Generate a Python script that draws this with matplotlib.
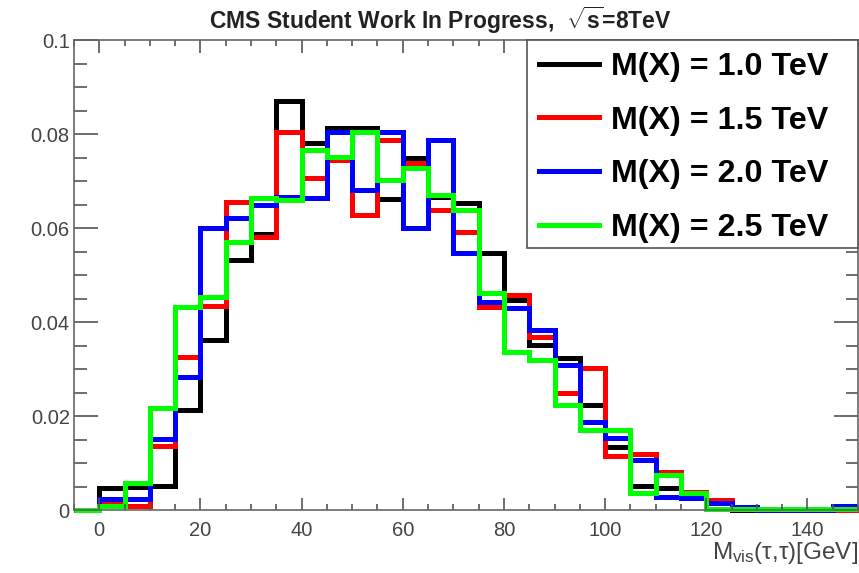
import numpy as np
import matplotlib
matplotlib.use("Agg")
import matplotlib.pyplot as plt
from matplotlib.patches import Rectangle
from matplotlib.ticker import MultipleLocator, FuncFormatter

plt.rcParams['font.family'] = ['Liberation Sans', 'DejaVu Sans']
plt.rcParams['mathtext.fontset'] = 'custom'
plt.rcParams['mathtext.rm'] = 'Liberation Sans'
plt.rcParams['mathtext.it'] = 'Liberation Sans:italic'
plt.rcParams['mathtext.bf'] = 'Liberation Sans:bold'

# visible di-tau mass, 5 GeV bins starting at -5
edges = np.arange(-5, 155, 5)

m10 = [0, 0.0047, 0.0048, 0.0051, 0.0213, 0.0362, 0.0532, 0.0588, 0.0871, 0.0781,
       0.0813, 0.0813, 0.0662, 0.0750, 0.0665, 0.0653, 0.0547, 0.0447, 0.0351, 0.0323,
       0.0223, 0.0134, 0.0051, 0.0047, 0.0030, 0.0003, 0, 0, 0, 0, 0]
m15 = [0, 0.0015, 0.0008, 0.0136, 0.0326, 0.0433, 0.0656, 0.0581, 0.0805, 0.0707,
       0.0745, 0.0628, 0.0788, 0.0738, 0.0638, 0.0592, 0.0432, 0.0458, 0.0369, 0.0250,
       0.0302, 0.0115, 0.0120, 0.0081, 0.0038, 0.0021, 0.0003, 0, 0, 0, 0]
m20 = [0, 0.0023, 0.0023, 0.0151, 0.0283, 0.0600, 0.0622, 0.0650, 0.0667, 0.0664,
       0.0805, 0.0680, 0.0805, 0.0600, 0.0788, 0.0547, 0.0443, 0.0430, 0.0383, 0.0309,
       0.0187, 0.0153, 0.0106, 0.0028, 0.0026, 0.0015, 0.0006, 0, 0, 0, 0.0009]
m25 = [0, 0.0008, 0.0057, 0.0217, 0.0432, 0.0454, 0.0571, 0.0664, 0.0660, 0.0766,
       0.0752, 0.0805, 0.0703, 0.0728, 0.0670, 0.0638, 0.0462, 0.0336, 0.0319, 0.0223,
       0.0170, 0.0170, 0.0036, 0.0075, 0.0036, 0.0003, 0.0003, 0.0003, 0.0003, 0.0003, 0.0003]

labels = ['M(X) = 1.0 TeV', 'M(X) = 1.5 TeV', 'M(X) = 2.0 TeV', 'M(X) = 2.5 TeV']
colors = ['#000000', '#ff0000', '#0000ff', '#00ff00']

W, H = 859, 573
fig = plt.figure(figsize=(W / 100, H / 100), dpi=100)
ax = fig.add_axes([74 / W, 1 - 510 / H, 784 / W, 470 / H])

for vals, lab, col in zip([m10, m15, m20, m25], labels, colors):
    ax.stairs(vals, edges, color=col, lw=3.6, label=lab, clip_on=False)

ax.set_xlim(-5, 150)
ax.set_ylim(0, 0.1)

ax.xaxis.set_major_locator(MultipleLocator(20))
ax.xaxis.set_minor_locator(MultipleLocator(5))
ax.yaxis.set_major_locator(MultipleLocator(0.02))
ax.yaxis.set_minor_locator(MultipleLocator(0.005))
ax.yaxis.set_major_formatter(FuncFormatter(lambda v, p: '0' if v == 0 else ('%.2f' % v).rstrip('0')))

grey = '#555555'
ax.tick_params(which='both', direction='in', top=True, right=True, colors=grey,
               labelcolor='#444444', labelsize=14.5, width=1.2)
ax.tick_params(axis='y', which='major', length=17, pad=3)
ax.tick_params(axis='y', which='minor', length=9)
ax.tick_params(axis='x', which='major', length=9, pad=8)
ax.tick_params(axis='x', which='minor', length=4.5)
for sp in ax.spines.values():
    sp.set_color('#666666')
    sp.set_linewidth(1.2)

# legend box drawn separately so its size can be set freely
box = Rectangle((527 / W, 1 - 248 / H), 331 / W, 208 / H, transform=fig.transFigure,
                facecolor='white', edgecolor='#555555', lw=1.2, zorder=5, clip_on=False)
ax.add_patch(box)
leg = ax.legend(loc='upper left', bbox_to_anchor=(527 / W, 1 - 40 / H),
                bbox_transform=fig.transFigure, borderaxespad=0, frameon=False,
                prop={'weight': 'bold', 'size': 23.2}, handlelength=1.86,
                handletextpad=0.37, labelspacing=0.73, borderpad=0.38)
leg.set_zorder(6)

fig.text(0.513, 1 - 20 / H, r'CMS Student Work In Progress,  $\mathbf{\sqrt{s}}$=8TeV',
         ha='center', va='center', fontsize=16.5, fontweight='bold', color='#222222')
fig.text(0.999, 1 - 553 / H, r'M$_{\mathrm{vis}}$(τ,τ)[GeV]',
         ha='right', va='center', fontsize=17.5, color='#444444')

fig.savefig('out.png', dpi=100)
